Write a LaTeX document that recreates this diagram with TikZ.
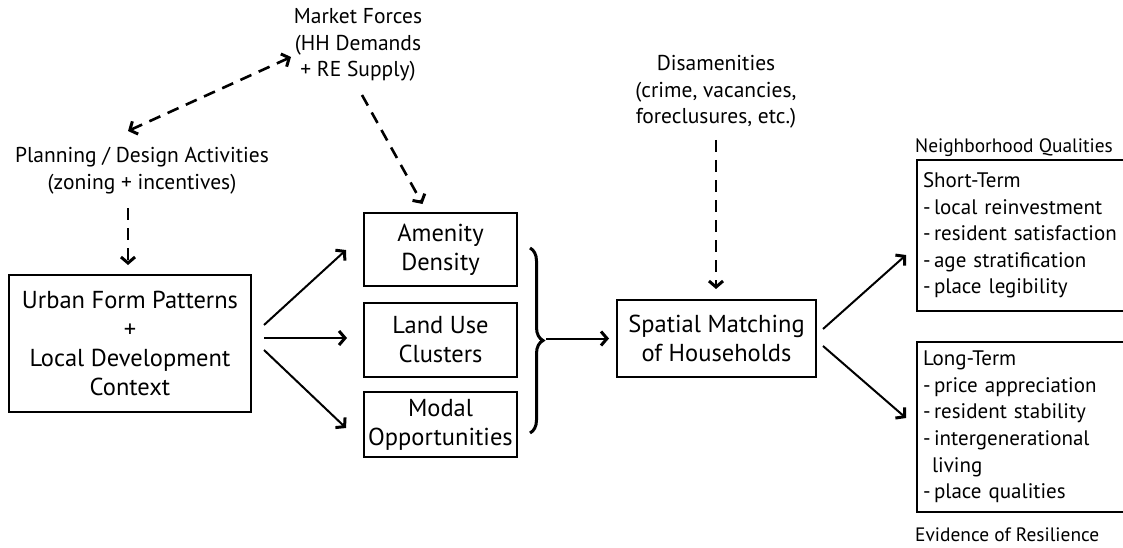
\documentclass[tikz,border=0pt]{standalone}
\usepackage{fontspec}
\setmainfont{PT Sans}
\usetikzlibrary{arrows.meta,decorations.pathreplacing,calc}
\begin{document}
\begin{tikzpicture}[x=1pt,y=-1pt,
  bigtxt/.style={font=\fontsize{24.5}{29}\selectfont},
  lbltxt/.style={font=\fontsize{21.5}{26.7}\selectfont, align=center, inner sep=0pt},
  smalltxt/.style={font=\fontsize{19.4}{22}\selectfont, inner sep=0pt},
  box/.style={draw, line width=2pt, align=center, bigtxt, inner sep=0pt},
  rbox/.style={draw, line width=2pt, align=left, font=\fontsize{21}{26.6}\selectfont,
    text width=208pt, inner xsep=6pt, inner ysep=0pt, minimum height=151pt, anchor=west},
  arr/.style={line width=2pt, -{Straight Barb[length=6pt,width=14pt,line width=3pt]}},
  darr/.style={line width=2.6pt, dash pattern=on 12pt off 8pt, -{Straight Barb[length=6pt,width=14pt,line width=3pt]}},
  ddarr/.style={line width=2.6pt, dash pattern=on 12pt off 8pt, {Straight Barb[length=6pt,width=14pt,line width=3pt]}-{Straight Barb[length=6pt,width=14pt,line width=3pt]}}
]
\useasboundingbox (0,0) rectangle (1123,548);

% text labels
\node[lbltxt] (market) at (358,45) {Market Forces\\(HH Demands\\+ RE Supply)};
\node[lbltxt] (planning) at (142,171) {Planning / Design Activities\\(zoning + incentives)};
\node[lbltxt] (disam) at (716,92) {Disamenities\\(crime, vacancies,\\foreclusures, etc.)};

% boxes
\node[box, minimum width=242pt, minimum height=137pt] (urban) at (130,343.5)
  {Urban Form Patterns\\+\\Local Development\\Context};
\node[box, minimum width=153pt, minimum height=73pt] (amen) at (440.5,249.5) {Amenity\\Density};
\node[box, minimum width=153pt, minimum height=74pt] (land) at (440.5,340) {Land Use\\Clusters};
\node[box, minimum width=153pt, minimum height=65pt] (modal) at (440.5,424.5) {Modal\\Opportunities};
\node[box, minimum width=199pt, minimum height=77pt] (spatial) at (716.5,338.5) {Spatial Matching\\of Households};

\node[rbox] (short) at (916,235.5) {Short-Term\\-\,local reinvestment\\-\,resident satisfaction\\-\,age stratification\\-\,place legibility};
\node[rbox, minimum height=170pt] (long) at (916,427) {\rule{0pt}{14pt}Long-Term\\-\,price appreciation\\-\,resident stability\\-\,intergenerational\\\hspace*{9pt}living\\-\,place qualities};

\node[smalltxt, anchor=west] (nq) at (915,148) {Neighborhood Qualities};
\node[smalltxt, anchor=west] (ev) at (915,535) {Evidence of Resilience};

% brace
\draw[decorate, decoration={brace, amplitude=13pt}, line width=3pt] (530,248) -- (530,433);
\coordinate (bracetip) at (546,338.5);

% dashed connectors
\coordinate (pl1) at (128,131);
\coordinate (mk1) at (291,57);
\draw[ddarr] (pl1) -- (mk1);
\coordinate (mk2) at (362,95);
\draw[darr] (mk2) -- ([shift={(-18,-8)}]amen.north);
\coordinate (pl2) at (128,208);
\draw[darr] (pl2) -- ([shift={(-2,-9)}]urban.north);
\coordinate (ds1) at (716,140);
\draw[darr] (ds1) -- ([shift={(-0.5,-10)}]spatial.north);

% solid connectors
\draw[arr] ([shift={(12,-18.5)}]urban.east) -- ([shift={(-17,0.5)}]amen.west);
\draw[arr] ([shift={(12,-5.5)}]urban.east) -- ([shift={(-16,-2)}]land.west);
\draw[arr] ([shift={(12,6.5)}]urban.east) -- ([shift={(-17,3.5)}]modal.west);
\draw[arr] (bracetip) -- ([shift={(-7,0)}]spatial.west);
\draw[arr] ([shift={(6,-9.5)}]spatial.east) -- ([shift={(-10,19.5)}]short.west);
\draw[arr] ([shift={(6,7.5)}]spatial.east) -- ([shift={(-10,-9)}]long.west);
\end{tikzpicture}
\end{document}
